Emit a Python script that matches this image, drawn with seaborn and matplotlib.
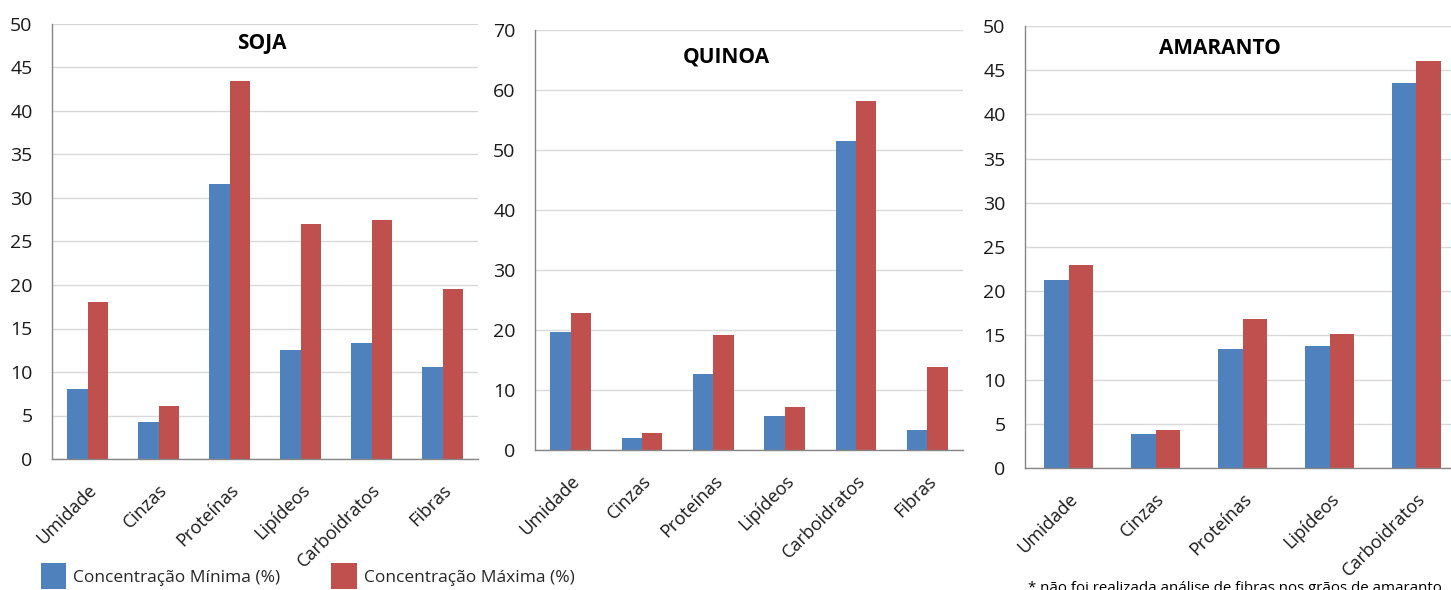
import matplotlib
matplotlib.use("Agg")
import matplotlib.pyplot as plt
from matplotlib.patches import Patch
import pandas as pd
import seaborn as sns

# Composition ranges (%) for each grain
soja_cats = ["Umidade", "Cinzas", "Proteínas", "Lipídeos", "Carboidratos", "Fibras"]
soja_min = [8.1, 4.3, 31.6, 12.5, 13.3, 10.6]
soja_max = [18.1, 6.1, 43.5, 27.0, 27.5, 19.5]

quinoa_cats = ["Umidade", "Cinzas", "Proteínas", "Lipídeos", "Carboidratos", "Fibras"]
quinoa_min = [19.6, 2.0, 12.7, 5.7, 51.5, 3.4]
quinoa_max = [22.8, 2.9, 19.1, 7.1, 58.2, 13.9]

amaranto_cats = ["Umidade", "Cinzas", "Proteínas", "Lipídeos", "Carboidratos"]
amaranto_min = [21.3, 3.8, 13.5, 13.8, 43.5]
amaranto_max = [23.0, 4.3, 16.9, 15.2, 46.0]

series_names = ["Concentração Mínima (%)", "Concentração Máxima (%)"]
colors = ["#4F81BD", "#C0504D"]

sns.set_theme(style="white")
plt.rcParams["font.family"] = ["Open Sans", "DejaVu Sans"]

W, H = 1451, 590
fig = plt.figure(figsize=(W / 100, H / 100), dpi=100)


def px_axes(left, top, right, bottom):
    return fig.add_axes([left / W, 1 - bottom / H, (right - left) / W, (bottom - top) / H])


panels = [
    ("SOJA", soja_cats, soja_min, soja_max, 50, 5, (52, 24, 478, 459), (0.493, 0.956)),
    ("QUINOA", quinoa_cats, quinoa_min, quinoa_max, 70, 10, (535, 30, 963, 450), (0.446, 0.936)),
    ("AMARANTO", amaranto_cats, amaranto_min, amaranto_max, 50, 5, (1025, 26, 1460, 468), (0.448, 0.948)),
]

for title, cats, vmin, vmax, ymax, step, box, tpos in panels:
    ax = px_axes(*box)
    df = pd.DataFrame({
        "Componente": cats * 2,
        "Valor": list(vmin) + list(vmax),
        "Série": [series_names[0]] * len(cats) + [series_names[1]] * len(cats),
    })
    sns.barplot(data=df, x="Componente", y="Valor", hue="Série", palette=colors,
                width=0.57, saturation=1, ax=ax, legend=False, linewidth=0)
    n = len(cats)
    ax.set_xlim(-0.5, n - 0.5)
    ax.set_ylim(0, ymax)
    ax.set_yticks(range(0, ymax + 1, step))
    ax.set_xlabel("")
    ax.set_ylabel("")
    ax.yaxis.grid(True, color="#D9D9D9", linewidth=1)
    ax.set_axisbelow(True)
    for s in ["top", "right"]:
        ax.spines[s].set_visible(False)
    ax.spines["left"].set_color("#868686")
    ax.spines["bottom"].set_color("#868686")
    ax.spines["left"].set_linewidth(1)
    ax.spines["bottom"].set_linewidth(1)
    ax.tick_params(axis="y", length=5, color="#D9D9D9", labelsize=14, pad=9,
                   labelcolor="#1a1a1a")
    ax.tick_params(axis="x", which="major", length=0, labelsize=13, pad=16,
                   labelcolor="#1a1a1a")
    ax.set_xticks([i - 0.5 for i in range(n + 1)], minor=True)
    ax.tick_params(axis="x", which="minor", length=6, color="#868686")
    plt.setp(ax.get_xticklabels(), rotation=45, ha="right", va="top",
             rotation_mode="anchor")
    ax.text(tpos[0], tpos[1], title, transform=ax.transAxes, ha="center",
            va="center", fontsize=15, fontweight="bold", color="black")

handles = [Patch(facecolor=c, edgecolor="none") for c in colors]
fig.legend(handles, series_names, loc="lower left", bbox_to_anchor=(34 / W, -6 / H),
           ncol=2, frameon=False, fontsize=12.5, handlelength=1.45, handleheight=1.9,
           handletextpad=0.4, columnspacing=2.95, borderaxespad=0)

fig.text(1028 / W, 1 - 581 / H, "* não foi realizada análise de fibras nos grãos de amaranto",
         ha="left", va="top", fontsize=10.8, color="black")

fig.savefig("out.png", dpi=100)
